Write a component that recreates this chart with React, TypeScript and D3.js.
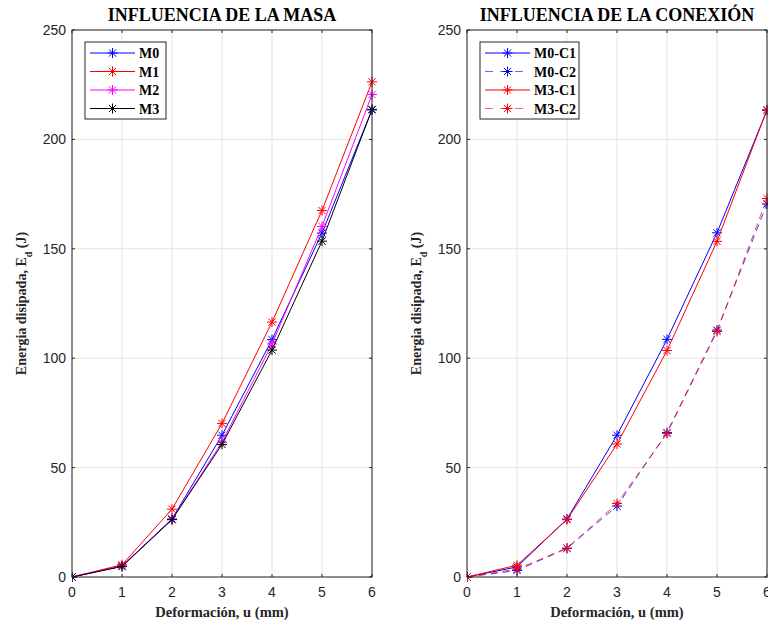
import React from "react";
import * as d3 from "d3";

// deformation (mm)
const deform = [0, 1, 2, 3, 4, 5, 6];

// left panel: influence of mass
const m0 = [0, 5, 26.5, 64.8, 108.5, 157.2, 213.5];
const m1 = [0, 5.6, 31, 70.2, 116.5, 167.5, 226.3];
const m2 = [0, 5, 26.3, 61.6, 106.5, 160.2, 220.5];
const m3 = [0, 4.8, 26.2, 60.6, 103.7, 153.5, 213.7];

// right panel: influence of connection
const m0c1 = [0, 4.6, 26.5, 64.8, 108.6, 157.3, 213.3];
const m0c2 = [0, 3, 13.1, 32.4, 66, 112.8, 170.5];
const m3c1 = [0, 5.4, 26.2, 60.8, 103.5, 153.4, 213.6];
const m3c2 = [0, 3.6, 13.2, 33.6, 65.6, 112.2, 173];

const xTicks = [0, 1, 2, 3, 4, 5, 6];
const yTicks = [0, 50, 100, 150, 200, 250];

type Series = { name: string; values: number[]; color: string; dashed?: boolean };

const leftSeries: Series[] = [
  { name: "M0", values: m0, color: "#0000ff" },
  { name: "M1", values: m1, color: "#ff0000" },
  { name: "M2", values: m2, color: "#ff00ff" },
  { name: "M3", values: m3, color: "#000000" },
];

const rightSeries: Series[] = [
  { name: "M0-C1", values: m0c1, color: "#0000ff" },
  { name: "M0-C2", values: m0c2, color: "#0000ff", dashed: true },
  { name: "M3-C1", values: m3c1, color: "#ff0000" },
  { name: "M3-C2", values: m3c2, color: "#ff0000", dashed: true },
];

const axisColor = "#262626";
const serif = "'Liberation Serif', 'Times New Roman', serif";
const sans = "'Liberation Sans', Arial, sans-serif";

function Star({ x, y, color }: { x: number; y: number; color: string }) {
  const r = 5;
  const d = r * 0.72;
  return (
    <path
      d={`M${x - r},${y}H${x + r}M${x},${y - r}V${y + r}M${x - d},${y - d}L${x + d},${y + d}M${x - d},${y + d}L${x + d},${y - d}`}
      stroke={color}
      strokeWidth={1}
      fill="none"
    />
  );
}

function Panel({
  left,
  title,
  series,
  legendWidth,
}: {
  left: number;
  title: string;
  series: Series[];
  legendWidth: number;
}) {
  const top = 30;
  const bottom = 577;
  const width = 300;
  const x = d3.scaleLinear().domain([0, 6]).range([left, left + width]);
  const y = d3.scaleLinear().domain([0, 250]).range([bottom, top]);
  const line = d3
    .line<number>()
    .x((_, i) => x(deform[i]))
    .y((v) => y(v));

  const lgX = left + 13;
  const lgY = 42;
  const rowH = 18.5;

  return (
    <g>
      <defs>
        <clipPath id={`clip-${left}`}>
          <rect x={left} y={top - 8} width={width + 8} height={bottom - top + 16} />
        </clipPath>
      </defs>
      {/* grid */}
      {xTicks.map((t) => (
        <line key={`gx${t}`} x1={x(t)} x2={x(t)} y1={top} y2={bottom} stroke="#e3e3e3" strokeWidth={1} />
      ))}
      {yTicks.map((t) => (
        <line key={`gy${t}`} x1={left} x2={left + width} y1={y(t)} y2={y(t)} stroke="#e3e3e3" strokeWidth={1} />
      ))}
      {/* series */}
      <g clipPath={`url(#clip-${left})`}>
        {series.map((s) => (
          <g key={s.name}>
            <path
              d={line(s.values) ?? ""}
              fill="none"
              stroke={s.color}
              strokeWidth={1}
              strokeDasharray={s.dashed ? "7,5" : undefined}
              opacity={s.dashed ? 0.75 : 1}
            />
            {s.values.map((v, i) => (
              <Star key={i} x={x(deform[i])} y={y(v)} color={s.color} />
            ))}
          </g>
        ))}
      </g>
      {/* box */}
      <rect x={left} y={top} width={width} height={bottom - top} fill="none" stroke={axisColor} strokeWidth={1} />
      {xTicks.map((t) => (
        <g key={`tx${t}`}>
          <line x1={x(t)} x2={x(t)} y1={bottom} y2={bottom - 3} stroke={axisColor} />
          <line x1={x(t)} x2={x(t)} y1={top} y2={top + 3} stroke={axisColor} />
          <text x={x(t)} y={bottom + 20} textAnchor="middle" fontFamily={sans} fontSize={14} fill={axisColor}>
            {t}
          </text>
        </g>
      ))}
      {yTicks.map((t) => (
        <g key={`ty${t}`}>
          <line x1={left} x2={left + 3} y1={y(t)} y2={y(t)} stroke={axisColor} />
          <line x1={left + width} x2={left + width - 3} y1={y(t)} y2={y(t)} stroke={axisColor} />
          <text x={left - 6} y={y(t) + 5} textAnchor="end" fontFamily={sans} fontSize={14} fill={axisColor}>
            {t}
          </text>
        </g>
      ))}
      {/* labels */}
      <text x={left + width / 2} y={21} textAnchor="middle" fontFamily={serif} fontWeight="bold" fontSize={18} fill="#000">
        {title}
      </text>
      <text x={left + width / 2} y={617} textAnchor="middle" fontFamily={serif} fontWeight="bold" fontSize={14.5} fill={axisColor}>
        Deformación, u (mm)
      </text>
      <text
        transform={`translate(${left - 46},${(top + bottom) / 2}) rotate(-90)`}
        textAnchor="middle"
        fontFamily={serif}
        fontWeight="bold"
        fontSize={14}
        fill={axisColor}
      >
        Energia disipada, E<tspan baselineShift="sub" fontSize={10}>d</tspan> (J)
      </text>
      {/* legend */}
      <rect x={lgX} y={lgY} width={legendWidth} height={77} fill="#fff" stroke={axisColor} strokeWidth={1} />
      {series.map((s, i) => {
        const cy = lgY + 11 + i * rowH;
        return (
          <g key={`lg${s.name}`}>
            <line
              x1={lgX + 5}
              x2={lgX + 50}
              y1={cy}
              y2={cy}
              stroke={s.color}
              strokeWidth={1}
              strokeDasharray={s.dashed ? "8,7" : undefined}
              opacity={s.dashed ? 0.6 : 1}
            />
            <Star x={lgX + 27.5} y={cy} color={s.color} />
            <text x={lgX + 54} y={cy + 5} fontFamily={serif} fontWeight="bold" fontSize={14} fill="#000">
              {s.name}
            </text>
          </g>
        );
      })}
    </g>
  );
}

export default function App() {
  return (
    <svg width={768} height={624} style={{ position: "absolute", left: 0, top: 0, background: "#fff" }}>
      <rect width={768} height={624} fill="#fff" />
      <Panel left={72} title="INFLUENCIA DE LA MASA" series={leftSeries} legendWidth={81} />
      <Panel left={467} title="INFLUENCIA DE LA CONEXIÓN" series={rightSeries} legendWidth={99} />
    </svg>
  );
}
